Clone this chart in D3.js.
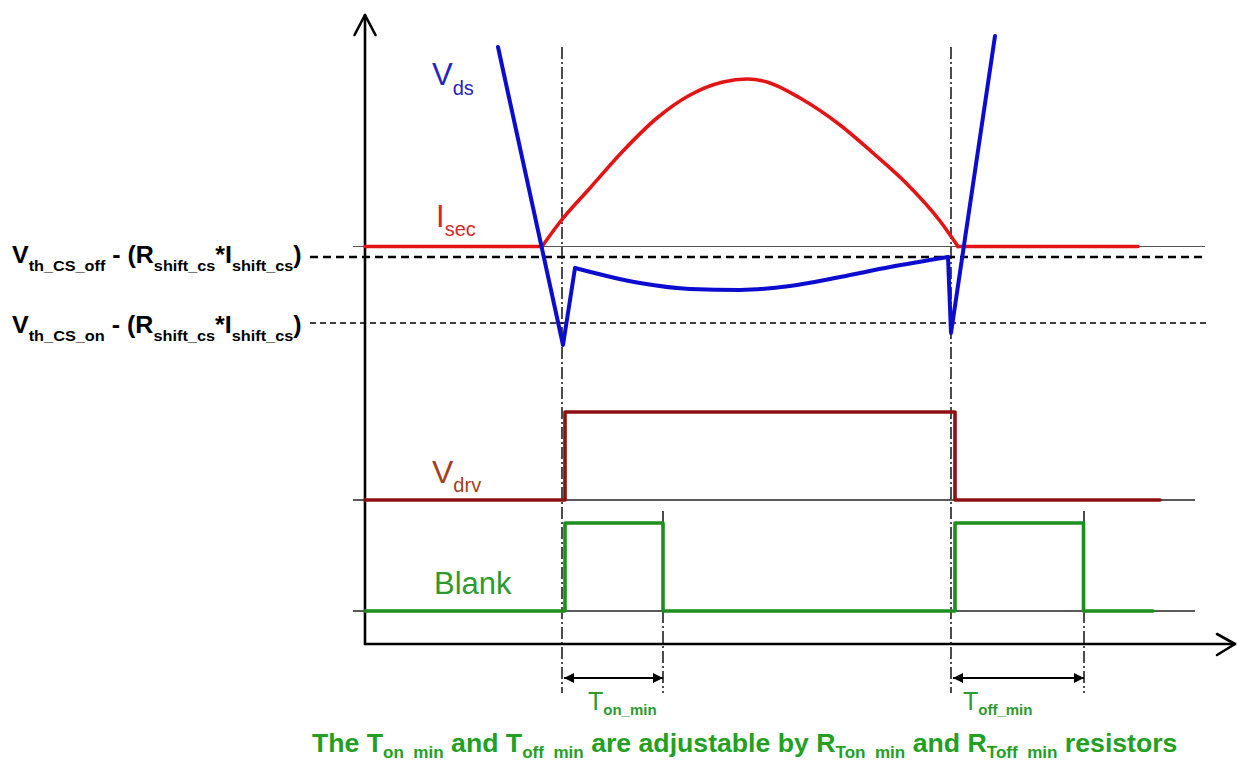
<!DOCTYPE html>
<html><head><meta charset="utf-8">
<script src="https://cdn.jsdelivr.net/npm/d3@7"></script>
<style>html,body{margin:0;padding:0;background:#fff;} svg{display:block;} text{white-space:pre;}</style>
</head><body><svg id="c" width="1237" height="762"></svg>
<script>
// ---------- data (time units / signal units) ----------
const isecT = [0, 17.7, 19.5, 22.5, 25.8, 29.2, 32.5, 35.8, 38.2, 40.2, 43.5, 47.5, 50.8, 54.2, 57.5, 59.3, 77.3];
const isecV = [39.75, 39.75, 42.2, 45.6, 49.3, 52.6, 54.9, 56.2, 56.5, 56.2, 54.6, 51.9, 49.1, 46.0, 42.3, 39.75, 39.75];

const vdsT = [13.3, 19.8, 21.0, 27.5, 32.5, 37.5, 42.5, 47.5, 52.5, 58.3, 58.6, 63.0];
const vdsV = [59.7, 29.9, 37.6, 36.1, 35.5, 35.4, 35.8, 36.7, 37.7, 38.7, 31.1, 60.8];

const vdrvT = [0, 20.0, 20.0, 59.0, 59.0, 79.5];
const vdrvV = [14.4, 14.4, 23.2, 23.2, 14.4, 14.4];

const blankT = [0, 20.0, 20.0, 29.8, 29.8, 59.0, 59.0, 71.85, 71.85, 78.8];
const blankV = [3.3, 3.3, 12.1, 12.1, 3.3, 3.3, 12.1, 12.1, 3.3, 3.3];

const isecZero = 39.75;
const thresholdLevels = [38.7, 32.1];
const thresholdNames = ["th_CS_off", "th_CS_on"];
const baselineLevels = [14.4, 3.3];
const markerTimes = [19.7, 29.8, 58.6, 71.9];
const markerTall = [true, false, true, false];
const intervalNames = ["on_min", "off_min"];

// ---------- setup ----------
const svg = d3.select("#c");
const x = d3.scaleLinear().domain([0, 87]).range([365, 1235]);
const y = d3.scaleLinear().domain([0, 62.5]).range([644, 19]);
const FONT = '"Liberation Sans", Arial, Helvetica, sans-serif';

const C = {
  blue: "#0c0cd0", red: "#e41414", drv: "#8e1010", green: "#1e8e1e",
  blueT: "#2424c0", redT: "#d82828", drvT: "#a4401e", greenT: "#2e9a2e", greenCap: "#22a022"
};

const defs = svg.append("defs");
const mk = defs.append("marker").attr("id", "ah").attr("viewBox", "0 0 10 10")
  .attr("refX", 10).attr("refY", 5).attr("markerWidth", 12).attr("markerHeight", 10)
  .attr("markerUnits", "userSpaceOnUse").attr("orient", "auto-start-reverse");
mk.append("path").attr("d", "M0,0 L10,5 L0,10 Z").attr("fill", "#000");

// ---------- reference lines ----------
svg.append("line").attr("x1", x(-1.2)).attr("x2", x(84)).attr("y1", y(isecZero)).attr("y2", y(isecZero))
  .attr("stroke", "#555").attr("stroke-width", 1);
thresholdLevels.forEach((lv, i) => {
  svg.append("line").attr("x1", x(-5.5)).attr("x2", x(84.2)).attr("y1", y(lv)).attr("y2", y(lv))
    .attr("stroke", "#000").attr("stroke-width", i === 0 ? 2.4 : 1.5)
    .attr("stroke-dasharray", i === 0 ? "8,5" : "6,4");
});
baselineLevels.forEach(lv => {
  svg.append("line").attr("x1", x(-1.2)).attr("x2", x(83)).attr("y1", y(lv)).attr("y2", y(lv))
    .attr("stroke", "#222").attr("stroke-width", 1.5);
});
markerTimes.forEach((t, i) => {
  svg.append("line").attr("x1", x(t)).attr("x2", x(t))
    .attr("y1", markerTall[i] ? y(59.7) : y(13.3)).attr("y2", y(-4.9))
    .attr("stroke", "#000").attr("stroke-width", 1.4)
    .attr("stroke-dasharray", "12,3,2,3");
});

// ---------- axes ----------
const ax = svg.append("g").attr("stroke", "#000").attr("fill", "none").attr("stroke-width", 2.6)
  .attr("stroke-linecap", "round").attr("stroke-linejoin", "round");
ax.append("line").attr("x1", x(0)).attr("x2", x(0)).attr("y1", y(0)).attr("y2", y(62.5) - 4);
ax.append("path").attr("d", `M${x(0) - 10.5},${y(62.5) + 16} L${x(0)},${y(62.5) - 4} L${x(0) + 10.5},${y(62.5) + 16}`);
ax.append("line").attr("x1", x(0)).attr("x2", x(87)).attr("y1", y(0)).attr("y2", y(0));
ax.append("path").attr("d", `M${x(87) - 18},${y(0) - 10} L${x(87)},${y(0)} L${x(87) - 18},${y(0) + 11}`);

// ---------- signals ----------
function zipIdx(T, V, a, b) { return d3.range(a, b + 1).map(i => [T[i], V[i]]); }
const lin = d3.line().x(d => x(d[0])).y(d => y(d[1]));
const smoothM = d3.line().x(d => x(d[0])).y(d => y(d[1])).curve(d3.curveMonotoneX);

function draw(pathD, color, w) {
  svg.append("path").attr("d", pathD).attr("fill", "none").attr("stroke", color)
    .attr("stroke-width", w).attr("stroke-linejoin", "round").attr("stroke-linecap", "round");
}
draw(lin(zipIdx(isecT, isecV, 0, 1)), C.red, 3.6);
draw(smoothM(zipIdx(isecT, isecV, 1, 15)), C.red, 3.6);
draw(lin(zipIdx(isecT, isecV, 15, 16)), C.red, 3.6);
draw(lin(vdrvT.map((t, i) => [t, vdrvV[i]])), C.drv, 3.6);
draw(lin(blankT.map((t, i) => [t, blankV[i]])), C.green, 3.6);
draw(lin(zipIdx(vdsT, vdsV, 0, 2)), C.blue, 4);
draw(smoothM(zipIdx(vdsT, vdsV, 2, 9)), C.blue, 4);
draw(lin(zipIdx(vdsT, vdsV, 9, 11)), C.blue, 4);

[[0, 1], [2, 3]].forEach(([a, b]) => {
  svg.append("line").attr("x1", x(markerTimes[a]) + 2).attr("x2", x(markerTimes[b]))
    .attr("y1", y(-3.4)).attr("y2", y(-3.4)).attr("stroke", "#000").attr("stroke-width", 2)
    .attr("marker-start", "url(#ah)").attr("marker-end", "url(#ah)");
});

// ---------- text ----------
function rich(px, py, parts) {
  const t = svg.append("text").attr("x", px).attr("y", py).attr("font-family", FONT);
  let cur = 0;
  parts.forEach(p => {
    const off = p.sub || 0;
    t.append("tspan").attr("dy", off - cur).attr("font-size", p.size)
      .attr("font-weight", p.bold ? "bold" : "normal").attr("fill", p.color).text(p.t);
    cur = off;
  });
  return t;
}
function fit(t, x0, width) {
  const w = t.node().getBBox().width;
  t.attr("transform", `translate(${x0},0) scale(${width / w},1) translate(${-x0},0)`);
}

rich(432, 85, [{ t: "V", size: 31, color: C.blueT }, { t: "ds", size: 20, sub: 10, color: C.blueT }]);
rich(436, 227, [{ t: "I", size: 31, color: C.redT }, { t: "sec", size: 20, sub: 9, color: C.redT }]);
rich(432, 483, [{ t: "V", size: 32, color: C.drvT }, { t: "drv", size: 20, sub: 9, color: C.drvT }]);
rich(434, 594, [{ t: "Blank", size: 31, color: C.greenT }]);

const thrY = [263, 333];
thresholdNames.forEach((nm, i) => {
  const t = rich(12, thrY[i], [
    { t: "V", size: 23, bold: true, color: "#000" },
    { t: nm, size: 15, bold: true, sub: 8, color: "#000" },
    { t: " - (R", size: 23, bold: true, color: "#000" },
    { t: "shift_cs", size: 15, bold: true, sub: 8, color: "#000" },
    { t: "*I", size: 23, bold: true, color: "#000" },
    { t: "shift_cs", size: 15, bold: true, sub: 8, color: "#000" },
    { t: ")", size: 23, bold: true, color: "#000" }
  ]);
  fit(t, 12, 290);
});

const intX = [588, 963];
intervalNames.forEach((nm, i) => {
  rich(intX[i], 710, [
    { t: "T", size: 25, color: C.greenT },
    { t: nm, size: 15, bold: true, sub: 5, color: C.greenT }
  ]);
});

const cap = rich(312, 752, [
  { t: "The T", size: 25, bold: true, color: C.greenCap },
  { t: "on  min", size: 16, bold: true, sub: 6, color: C.greenCap },
  { t: " and T", size: 25, bold: true, color: C.greenCap },
  { t: "off  min", size: 16, bold: true, sub: 6, color: C.greenCap },
  { t: " are adjustable by R", size: 25, bold: true, color: C.greenCap },
  { t: "Ton  min", size: 16, bold: true, sub: 6, color: C.greenCap },
  { t: " and R", size: 25, bold: true, color: C.greenCap },
  { t: "Toff  min", size: 16, bold: true, sub: 6, color: C.greenCap },
  { t: " resistors", size: 25, bold: true, color: C.greenCap }
]);
fit(cap, 312, 866);
</script>
</body></html>
